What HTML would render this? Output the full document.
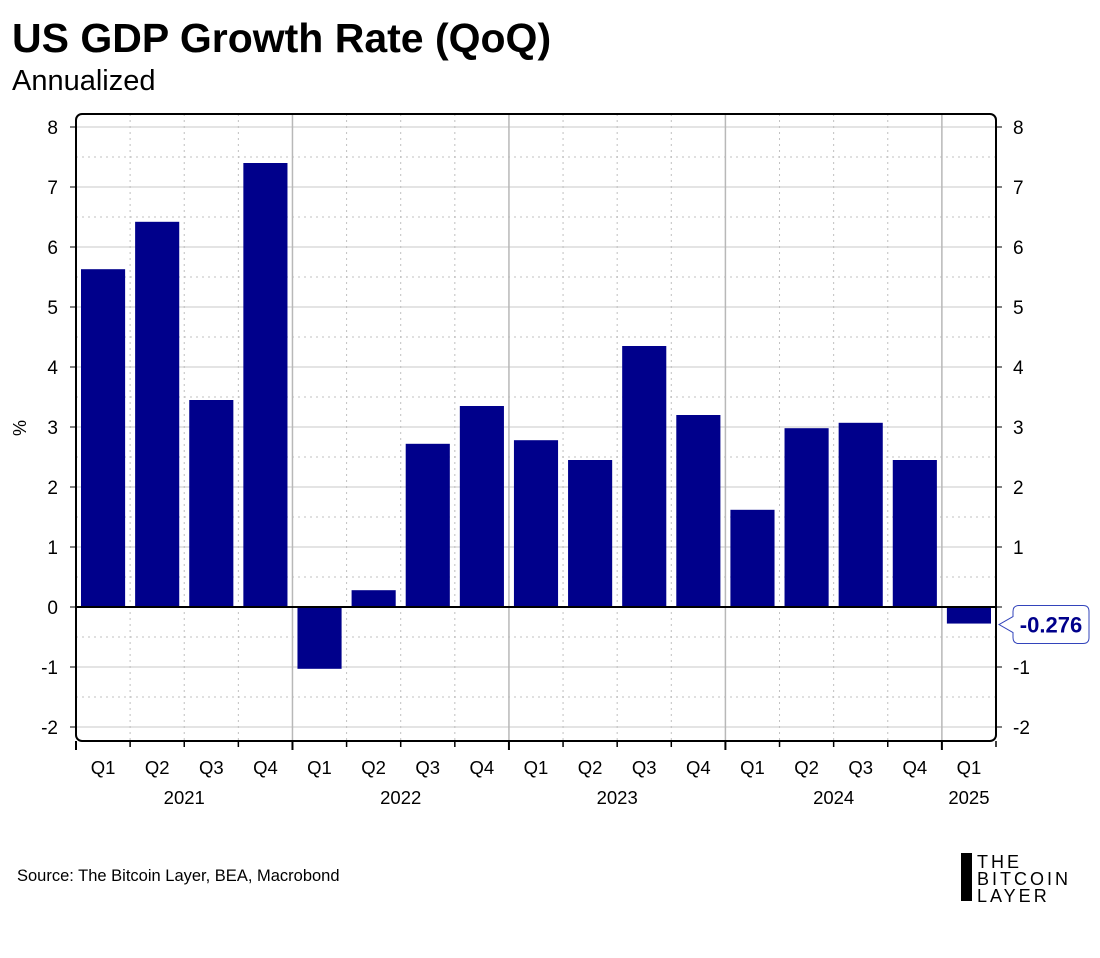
<!DOCTYPE html>
<html><head><meta charset="utf-8"><style>
body{margin:0;background:#fff;width:1100px;height:953px;overflow:hidden;font-family:"Liberation Sans",sans-serif}
</style></head><body>
<svg width="1100" height="953" xmlns="http://www.w3.org/2000/svg" id="chart">
<text x="12" y="52" font-size="41" font-weight="bold" fill="#000">US GDP Growth Rate (QoQ)</text>
<text x="12" y="90" font-size="29" fill="#000">Annualized</text>
<text x="26" y="428" font-size="18" text-anchor="middle" transform="rotate(-90 26 428)">%</text>
<g id="grid"></g><g id="bars"></g><g id="axes"></g>
<text x="17" y="881" font-size="16.5" fill="#000">Source: The Bitcoin Layer, BEA, Macrobond</text>
<g>
<rect x="961" y="853" width="11" height="48" fill="#000"/>
<text x="977" y="868" font-size="18" letter-spacing="3">THE</text>
<text x="977" y="885" font-size="18" letter-spacing="3">BITCOIN</text>
<text x="977" y="902" font-size="18" letter-spacing="3">LAYER</text>
</g>
</svg>
<script>
const quarters=["Q1","Q2","Q3","Q4","Q1","Q2","Q3","Q4","Q1","Q2","Q3","Q4","Q1","Q2","Q3","Q4","Q1"];
const years=["2021","2022","2023","2024","2025"];
const gdpValues=[5.63,6.42,3.45,7.4,-1.03,0.28,2.72,3.35,2.78,2.45,4.35,3.2,1.62,2.98,3.07,2.45,-0.276];
const yTicks=[-2,-1,0,1,2,3,4,5,6,7,8];
const NS="http://www.w3.org/2000/svg";
const L=76,R=996,T=114,B=741,n=quarters.length,qw=(R-L)/n;
const y=v=>607-v*60;
const x=i=>L+i*qw;
function mk(p,tag,a,txt){const e=document.createElementNS(NS,tag);for(const k in a)e.setAttribute(k,a[k]);if(txt!=null)e.textContent=txt;document.getElementById(p).appendChild(e);return e;}
for(let v=-2;v<=8;v+=0.5){
 const g=mk('grid','line',{x1:L,x2:R,y1:y(v),y2:y(v),stroke:Number.isInteger(v)?'#c8c8c8':'#c0c0c0','stroke-width':1,'stroke-dasharray':Number.isInteger(v)?'':'2 4'});
 
 
}
for(let i=1;i<n;i++){
 const yr=i%4===0;
 const g=mk('grid','line',{x1:x(i),x2:x(i),y1:T,y2:B,stroke:yr?'#b8b8b8':'#c0c0c0','stroke-width':yr?1.5:1,'stroke-dasharray':yr?'':'2 4'});
 
 
}
gdpValues.forEach((v,i)=>{
 const b=mk('bars','rect',{x:x(i)+5,width:qw-10,y:Math.min(y(v),y(0)),height:Math.abs(y(v)-y(0)),fill:'#00008b'});
 
 
});
mk('axes','line',{x1:L,x2:R,y1:y(0),y2:y(0),stroke:'#000','stroke-width':2});
const fr=mk('axes','rect',{x:L,y:T,width:R-L,height:B-T,rx:6,fill:'none',stroke:'#000','stroke-width':2});


yTicks.forEach(v=>{
 mk('axes','line',{x1:L-6,x2:L,y1:y(v),y2:y(v),stroke:'#000'});
 mk('axes','line',{x1:R,x2:R+6,y1:y(v),y2:y(v),stroke:'#000'});
 const t1=mk('axes','text',{x:58,y:y(v)+7,'font-size':19,'text-anchor':'end'},String(v));
 
 
 if(v!==0){const t2=mk('axes','text',{x:1013,y:y(v)+7,'font-size':19},String(v));
 
 }
});
for(let i=0;i<=n;i++){
 const yr=i%4===0;
 mk('axes','line',{x1:x(i),x2:x(i),y1:B,y2:B+(yr?9:6),stroke:'#000','stroke-width':yr?2:1.5});
}
quarters.forEach((q,i)=>{
 const t=mk('axes','text',{x:x(i)+qw/2,y:774,'font-size':18.5,'text-anchor':'middle'},q);
 
 
});
years.forEach((yv,k)=>{
 const span=Math.min(4,n-k*4);
 const t=mk('axes','text',{x:x(k*4)+span*qw/2,y:804,'font-size':18.5,'text-anchor':'middle'},yv);
 
 
});
const last=gdpValues[n-1],cy=y(last)+1;
const cp=mk('axes','path',{d:`M999 ${cy} L1013 ${cy-8} L1013 ${cy-13} Q1013 ${cy-19} 1019 ${cy-19} L1083 ${cy-19} Q1089 ${cy-19} 1089 ${cy-13} L1089 ${cy+13} Q1089 ${cy+19} 1083 ${cy+19} L1019 ${cy+19} Q1013 ${cy+19} 1013 ${cy+13} L1013 ${cy+8} Z`,fill:'#fff',stroke:'#3344bb','stroke-width':1});


const ct=mk('axes','text',{x:1051,y:cy+8,'font-size':22,'font-weight':'bold','text-anchor':'middle',fill:'#00008b'},last.toFixed(3));


</script>
</body></html>
